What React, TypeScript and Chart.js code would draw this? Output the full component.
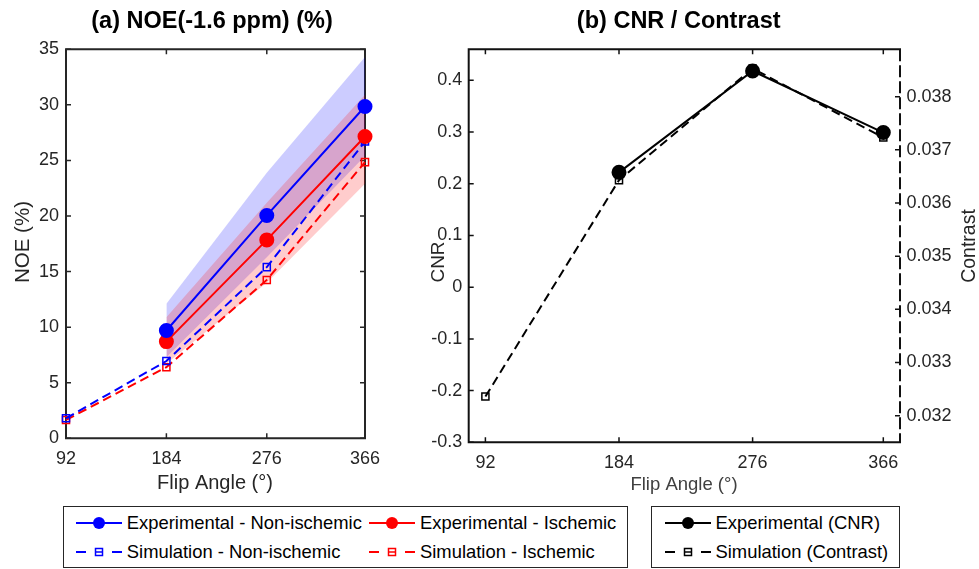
import React, { useEffect, useRef } from "react";
import { Chart, registerables } from "chart.js";
Chart.register(...registerables);

// ---------- data ----------
const flipAngles = [92, 184, 276, 366];
const expFlipAngles = [184, 276, 366];
const expNonIschemic = [9.7, 20.05, 29.85];
const expIschemic = [8.7, 17.85, 27.15];
const simNonIschemic = [1.8, 6.95, 15.4, 26.7];
const simIschemic = [1.65, 6.4, 14.25, 24.85];
const bandNonIschemicUpper = [12.1, 23.9, 34.3];
const bandNonIschemicLower = [7.3, 16.3, 25.4];
const bandIschemicUpper = [10.9, 21.2, 30.9];
const bandIschemicLower = [6.7, 14.0, 22.9];
const cnrExperimental = [0.222, 0.418, 0.299];
const contrastSimulation = [0.03236, 0.03643, 0.03853, 0.03723];

const noeTicks = [0, 5, 10, 15, 20, 25, 30, 35];
const cnrTicks = [-0.3, -0.2, -0.1, 0, 0.1, 0.2, 0.3, 0.4];
const contrastTicks = [0.032, 0.033, 0.034, 0.035, 0.036, 0.037, 0.038];

const legendA = [
  "Experimental - Non-ischemic",
  "Experimental - Ischemic",
  "Simulation - Non-ischemic",
  "Simulation - Ischemic",
];
const legendB = ["Experimental (CNR)", "Simulation (Contrast)"];

// ---------- style ----------
const FONT = '"Liberation Sans", Arial, Helvetica, sans-serif';
const AXIS = "#262626";
const BLUE = "#0000ff";
const RED = "#ff0000";

const pts = (xs: number[], ys: number[]) => xs.map((x, i) => ({ x, y: ys[i] }));

const axesBoxPlugin = {
  id: "axesBox",
  beforeDatasetsDraw(chart: any, _args: any, opts: any) {
    const { ctx, chartArea, scales } = chart;
    const { left, right, top, bottom } = chartArea;
    const L = opts.tickLen ?? 5;
    ctx.save();
    ctx.strokeStyle = opts.color || AXIS;
    ctx.lineWidth = opts.lineWidth || 2;
    ctx.lineCap = "square";
    ctx.beginPath();
    ctx.moveTo(left, bottom);
    ctx.lineTo(left, top);
    ctx.lineTo(right, top);
    ctx.moveTo(left, bottom);
    ctx.lineTo(right, bottom);
    ctx.stroke();
    ctx.lineCap = "butt";
    if (opts.rightDash) ctx.setLineDash(opts.rightDash);
    ctx.beginPath();
    ctx.moveTo(right, top);
    ctx.lineTo(right, bottom);
    ctx.stroke();
    ctx.setLineDash([]);
    ctx.lineWidth = opts.tickWidth || 1.5;
    ctx.beginPath();
    for (const t of scales.x.ticks) {
      const px = scales.x.getPixelForValue(t.value);
      ctx.moveTo(px, bottom);
      ctx.lineTo(px, bottom - L);
      ctx.moveTo(px, top);
      ctx.lineTo(px, top + L);
    }
    for (const t of scales.y.ticks) {
      const py = scales.y.getPixelForValue(t.value);
      ctx.moveTo(left, py);
      ctx.lineTo(left + L, py);
      if (opts.mirrorY) {
        ctx.moveTo(right, py);
        ctx.lineTo(right - L, py);
      }
    }
    if (scales.y1) {
      for (const t of scales.y1.ticks) {
        const py = scales.y1.getPixelForValue(t.value);
        ctx.moveTo(right, py);
        ctx.lineTo(right - L, py);
      }
    }
    ctx.stroke();
    ctx.restore();
  },
};

const textPlugin = {
  id: "panelText",
  afterDraw(chart: any, _args: any, opts: any) {
    const { ctx } = chart;
    for (const it of opts.items || []) {
      ctx.save();
      ctx.font = it.font;
      ctx.fillStyle = it.color || "#000";
      ctx.textAlign = "center";
      ctx.textBaseline = "middle";
      ctx.translate(it.x, it.y);
      if (it.rotate) ctx.rotate(it.rotate);
      ctx.fillText(it.text, 0, 0);
      ctx.restore();
    }
  },
};

const tickFont = { family: FONT, size: 18 };

function LeftChart() {
  const ref = useRef<HTMLCanvasElement>(null);
  useEffect(() => {
    const chart = new Chart(ref.current as HTMLCanvasElement, {
      type: "line",
      data: {
        datasets: [
          {
            label: legendA[0],
            data: pts(expFlipAngles, expNonIschemic),
            borderColor: BLUE,
            backgroundColor: BLUE,
            borderWidth: 2,
            pointRadius: 6.5,
            pointStyle: "circle",
            fill: false,
            clip: false,
          },
          {
            label: legendA[1],
            data: pts(expFlipAngles, expIschemic),
            borderColor: RED,
            backgroundColor: RED,
            borderWidth: 2,
            pointRadius: 6.5,
            fill: false,
            clip: false,
          },
          {
            label: legendA[2],
            data: pts(flipAngles, simNonIschemic),
            borderColor: BLUE,
            backgroundColor: "rgba(0,0,0,0)",
            borderWidth: 2,
            borderDash: [9, 5],
            pointStyle: "rect",
            pointRadius: 5,
            pointBorderWidth: 1.5,
            fill: false,
            clip: false,
          },
          {
            label: legendA[3],
            data: pts(flipAngles, simIschemic),
            borderColor: RED,
            backgroundColor: "rgba(0,0,0,0)",
            borderWidth: 2,
            borderDash: [9, 5],
            pointStyle: "rect",
            pointRadius: 5,
            pointBorderWidth: 1.5,
            fill: false,
            clip: false,
          },
          {
            label: "ischemic band upper",
            data: pts(expFlipAngles, bandIschemicUpper),
            borderWidth: 0,
            pointRadius: 0,
            backgroundColor: "rgba(255,0,0,0.2)",
            fill: "+1",
          },
          {
            label: "ischemic band lower",
            data: pts(expFlipAngles, bandIschemicLower),
            borderWidth: 0,
            pointRadius: 0,
            fill: false,
          },
          {
            label: "non-ischemic band upper",
            data: pts(expFlipAngles, bandNonIschemicUpper),
            borderWidth: 0,
            pointRadius: 0,
            backgroundColor: "rgba(0,0,255,0.2)",
            fill: "+1",
          },
          {
            label: "non-ischemic band lower",
            data: pts(expFlipAngles, bandNonIschemicLower),
            borderWidth: 0,
            pointRadius: 0,
            fill: false,
          },
        ],
      },
      options: {
        animation: false,
        responsive: false,
        layout: { padding: { top: 49.3, left: 0, right: 65, bottom: 0 } },
        plugins: {
          legend: { display: false },
          tooltip: { enabled: false },
          axesBox: { mirrorY: true, color: AXIS, lineWidth: 2, tickLen: 5 },
          panelText: {
            items: [
              { text: "(a) NOE(-1.6 ppm) (%)", x: 212, y: 22, font: `bold 23.5px ${FONT}` },
              { text: "NOE (%)", x: 23, y: 242, rotate: -Math.PI / 2, font: `20.5px ${FONT}`, color: AXIS },
              { text: "Flip Angle (°)", x: 215, y: 483.5, font: `20px ${FONT}`, color: AXIS },
            ],
          },
        },
        scales: {
          x: {
            type: "linear",
            min: 92,
            max: 366,
            afterBuildTicks: (s: any) => {
              s.ticks = flipAngles.map((v) => ({ value: v }));
            },
            afterFit: (s: any) => {
              s.height = 61.7;
            },
            grid: { display: false, drawTicks: false },
            border: { display: false },
            ticks: { padding: 10, font: tickFont, color: AXIS, autoSkip: false, maxRotation: 0, callback: (v: any) => String(v) },
          },
          y: {
            type: "linear",
            min: 0,
            max: 35,
            afterBuildTicks: (s: any) => {
              s.ticks = noeTicks.map((v) => ({ value: v }));
            },
            afterFit: (s: any) => {
              s.width = 66;
            },
            grid: { display: false, drawTicks: false },
            border: { display: false },
            ticks: { padding: 7, font: tickFont, color: AXIS, autoSkip: false, callback: (v: any) => String(v) },
          },
        },
      },
      plugins: [axesBoxPlugin, textPlugin],
    } as any);
    return () => chart.destroy();
  }, []);
  return <canvas ref={ref} width={430} height={500} style={{ position: "absolute", left: 0, top: 0 }} />;
}

function RightChart() {
  const ref = useRef<HTMLCanvasElement>(null);
  useEffect(() => {
    const chart = new Chart(ref.current as HTMLCanvasElement, {
      type: "line",
      data: {
        datasets: [
          {
            label: legendB[0],
            data: pts(expFlipAngles, cnrExperimental),
            yAxisID: "y",
            borderColor: "#000",
            backgroundColor: "#000",
            borderWidth: 2,
            pointRadius: 6.5,
            fill: false,
            clip: false,
          },
          {
            label: legendB[1],
            data: pts(flipAngles, contrastSimulation),
            yAxisID: "y1",
            borderColor: "#000",
            backgroundColor: "rgba(0,0,0,0)",
            borderWidth: 2,
            borderDash: [9, 5],
            pointStyle: "rect",
            pointRadius: 5,
            pointBorderWidth: 1.5,
            fill: false,
            clip: false,
          },
        ],
      },
      options: {
        animation: false,
        responsive: false,
        layout: { padding: { top: 49.3, left: 0, right: 0, bottom: 0 } },
        plugins: {
          legend: { display: false },
          tooltip: { enabled: false },
          axesBox: { mirrorY: false, color: "#111", lineWidth: 2, tickLen: 5, rightDash: [12, 4] },
          panelText: {
            items: [
              { text: "(b) CNR / Contrast", x: 258.7, y: 22, font: `bold 23.5px ${FONT}` },
              { text: "CNR", x: 19, y: 262, rotate: -Math.PI / 2, font: `19px ${FONT}`, color: AXIS },
              { text: "Contrast", x: 550, y: 246, rotate: -Math.PI / 2, font: `19.5px ${FONT}`, color: AXIS },
              { text: "Flip Angle (°)", x: 264, y: 485, font: `18.5px ${FONT}`, color: "#404040" },
            ],
          },
        },
        scales: {
          x: {
            type: "linear",
            min: 80.5,
            max: 377.5,
            afterBuildTicks: (s: any) => {
              s.ticks = flipAngles.map((v) => ({ value: v }));
            },
            afterFit: (s: any) => {
              s.height = 57.7;
            },
            grid: { display: false, drawTicks: false },
            border: { display: false },
            ticks: { padding: 10, font: tickFont, color: AXIS, autoSkip: false, maxRotation: 0, callback: (v: any) => String(v) },
          },
          y: {
            type: "linear",
            position: "left",
            min: -0.3,
            max: 0.46,
            afterBuildTicks: (s: any) => {
              s.ticks = cnrTicks.map((v) => ({ value: v }));
            },
            afterFit: (s: any) => {
              s.width = 48.7;
            },
            grid: { display: false, drawTicks: false },
            border: { display: false },
            ticks: {
              padding: 6.5,
              font: tickFont,
              color: AXIS,
              autoSkip: false,
              callback: (v: any) => (Math.abs(v) < 1e-9 ? "0" : Number(v).toFixed(1)),
            },
          },
          y1: {
            type: "linear",
            position: "right",
            min: 0.0315,
            max: 0.03889,
            afterBuildTicks: (s: any) => {
              s.ticks = contrastTicks.map((v) => ({ value: v }));
            },
            afterFit: (s: any) => {
              s.width = 79;
            },
            grid: { display: false, drawTicks: false },
            border: { display: false },
            ticks: { padding: 6.5, font: tickFont, color: AXIS, autoSkip: false, callback: (v: any) => Number(v).toFixed(3) },
          },
        },
      },
      plugins: [axesBoxPlugin, textPlugin],
    } as any);
    return () => chart.destroy();
  }, []);
  return <canvas ref={ref} width={559} height={500} style={{ position: "absolute", left: 420, top: 0 }} />;
}

function Sym({ color, kind }: { color: string; kind: "exp" | "sim" }) {
  if (kind === "exp") {
    return (
      <svg width={46} height={16} style={{ position: "absolute", left: 0, top: -8 }}>
        <line x1={0} y1={8} x2={46} y2={8} stroke={color} strokeWidth={2} />
        <circle cx={23} cy={8} r={6} fill={color} />
      </svg>
    );
  }
  return (
    <svg width={46} height={16} style={{ position: "absolute", left: 0, top: -8 }}>
      <line x1={0} y1={8} x2={10} y2={8} stroke={color} strokeWidth={2} />
      <rect x={19.5} y={4.5} width={7} height={7} fill="none" stroke={color} strokeWidth={1.5} />
      <line x1={19.5} y1={8} x2={26.5} y2={8} stroke={color} strokeWidth={1.5} />
      <line x1={36} y1={8} x2={46} y2={8} stroke={color} strokeWidth={2} />
    </svg>
  );
}

function LegendItem({ x, y, color, kind, label }: any) {
  return (
    <div style={{ position: "absolute", left: x, top: y }}>
      <Sym color={color} kind={kind} />
      <span
        style={{
          position: "absolute",
          left: 51,
          top: -11,
          lineHeight: "22px",
          fontSize: 18.4,
          whiteSpace: "nowrap",
          color: "#000",
          fontFamily: FONT,
        }}
      >
        {label}
      </span>
    </div>
  );
}

const boxStyle: React.CSSProperties = {
  position: "absolute",
  border: "1.5px solid #262626",
  boxSizing: "border-box",
  background: "#fff",
};

export default function App() {
  return (
    <div
      style={{
        position: "absolute",
        left: 0,
        top: 0,
        width: 979,
        height: 569,
        background: "#fff",
        overflow: "hidden",
        fontFamily: FONT,
      }}
    >
      <LeftChart />
      <RightChart />
      <div style={{ ...boxStyle, left: 62.5, top: 506, width: 565, height: 62 }}>
        <LegendItem x={12.3} y={16.3} color={BLUE} kind="exp" label={legendA[0]} />
        <LegendItem x={305.5} y={16.3} color={RED} kind="exp" label={legendA[1]} />
        <LegendItem x={12.3} y={45} color={BLUE} kind="sim" label={legendA[2]} />
        <LegendItem x={305.5} y={45} color={RED} kind="sim" label={legendA[3]} />
      </div>
      <div style={{ ...boxStyle, left: 650.5, top: 506, width: 249.5, height: 62 }}>
        <LegendItem x={13} y={16.3} color="#000" kind="exp" label={legendB[0]} />
        <LegendItem x={13} y={45} color="#000" kind="sim" label={legendB[1]} />
      </div>
    </div>
  );
}
